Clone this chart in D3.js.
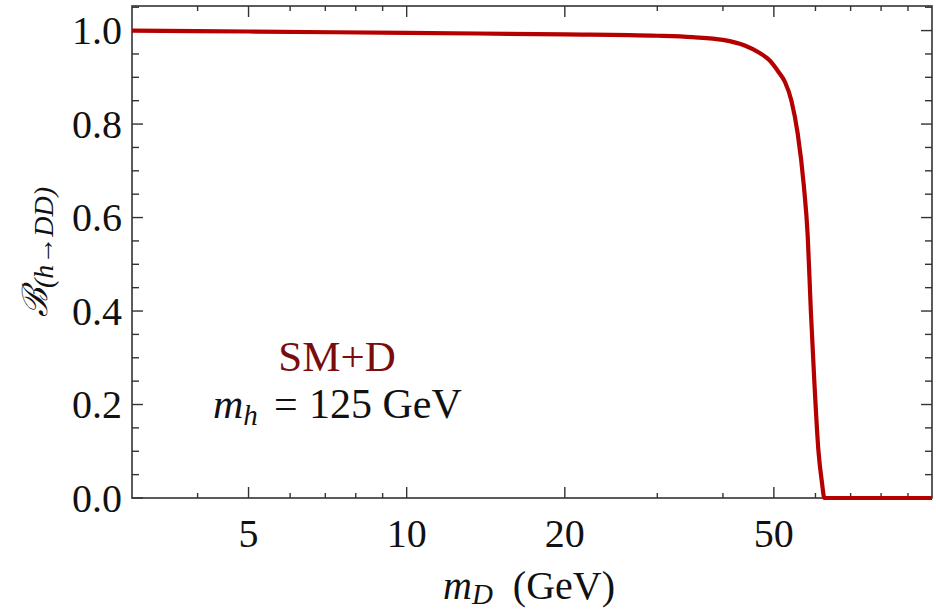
<!DOCTYPE html>
<html>
<head>
<meta charset="utf-8">
<script src="https://cdn.jsdelivr.net/npm/d3@7"></script>
<style>
  body { margin: 0; background: #fff; }
  svg text { font-family: "Liberation Serif", "Times New Roman", serif; }
</style>
</head>
<body>
<svg id="chart" width="936" height="610"></svg>
<script>
// masa de D (GeV) y fraccion de desintegracion
var masas = [3, 5, 10, 20, 30, 35, 40, 44, 47, 49, 51, 52.5, 54, 55.5, 57, 58, 58.8, 59.7, 60.8, 61.7, 62.4, 100];
var fraccion = [1.0, 0.998, 0.995, 0.992, 0.989, 0.986, 0.98, 0.968, 0.952, 0.937, 0.912, 0.89, 0.85, 0.78, 0.67, 0.56, 0.40, 0.25, 0.10, 0.035, 0, 0];

var xMajores = [5, 10, 20, 50];
var xMenores = [4, 6, 7, 8, 9, 30, 40, 60, 70, 80, 90];
var yMajores = [0, 0.2, 0.4, 0.6, 0.8, 1.0];

var svg = d3.select("#chart");
var bordeIzq = 132, bordeDer = 932, bordeSup = 6, bordeInf = 498;

var x = d3.scaleLog().domain([3, 100]).range([bordeIzq, bordeDer]);
var y = d3.scaleLinear().domain([0, 1.0526]).range([bordeInf, bordeSup]);
var yMenores = d3.range(0, 1.051, 0.05).filter(function (d) {
  return Math.abs(d * 5 - Math.round(d * 5)) > 1e-6;
});

var ejeColor = "#333";

// marco
svg.append("rect")
  .attr("x", bordeIzq).attr("y", bordeSup)
  .attr("width", bordeDer - bordeIzq).attr("height", bordeInf - bordeSup)
  .attr("fill", "none").attr("stroke", ejeColor).attr("stroke-width", 1.6);

// ticks inferiores y superiores
function ticksX(valores, largo) {
  svg.append("g").selectAll("line").data(valores).enter().append("line")
    .attr("x1", function (d) { return x(d); }).attr("x2", function (d) { return x(d); })
    .attr("y1", bordeInf).attr("y2", bordeInf - largo)
    .attr("stroke", ejeColor).attr("stroke-width", 1.4);
  svg.append("g").selectAll("line").data(valores).enter().append("line")
    .attr("x1", function (d) { return x(d); }).attr("x2", function (d) { return x(d); })
    .attr("y1", bordeSup).attr("y2", bordeSup + largo)
    .attr("stroke", ejeColor).attr("stroke-width", 1.4);
}
ticksX(xMajores, 11);
ticksX(xMenores, 5);

function ticksY(valores, largo) {
  svg.append("g").selectAll("line").data(valores).enter().append("line")
    .attr("x1", bordeIzq).attr("x2", bordeIzq + largo)
    .attr("y1", function (d) { return y(d); }).attr("y2", function (d) { return y(d); })
    .attr("stroke", ejeColor).attr("stroke-width", 1.4);
  svg.append("g").selectAll("line").data(valores).enter().append("line")
    .attr("x1", bordeDer).attr("x2", bordeDer - largo)
    .attr("y1", function (d) { return y(d); }).attr("y2", function (d) { return y(d); })
    .attr("stroke", ejeColor).attr("stroke-width", 1.4);
}
ticksY(yMajores, 11);
ticksY(yMenores, 7);

// etiquetas de los ejes
svg.append("g").selectAll("text").data(xMajores).enter().append("text")
  .attr("x", function (d) { return x(d); }).attr("y", 547)
  .attr("text-anchor", "middle").attr("font-size", 40).attr("fill", "#111")
  .text(function (d) { return d; });

svg.append("g").selectAll("text").data(yMajores).enter().append("text")
  .attr("x", 122).attr("y", function (d) { return y(d) + 13.5; })
  .attr("text-anchor", "end").attr("font-size", 40).attr("fill", "#111")
  .text(function (d) { return d.toFixed(1); });

// curva
var linea = d3.line()
  .x(function (d) { return x(d[0]); })
  .y(function (d) { return y(d[1]); })
  .curve(d3.curveMonotoneX);

svg.append("path")
  .datum(d3.zip(masas, fraccion))
  .attr("d", linea)
  .attr("fill", "none")
  .attr("stroke", "#b50000")
  .attr("stroke-width", 4.2)
  .attr("stroke-linejoin", "round");

// titulo del eje x
var tx = svg.append("text").attr("x", 443).attr("y", 599).attr("font-size", 40).attr("fill", "#111");
tx.append("tspan").attr("font-style", "italic").text("m");
tx.append("tspan").attr("font-style", "italic").attr("font-size", 29).attr("dy", 5).text("D");
tx.append("tspan").attr("dy", -5).text("\u00a0\u00a0(GeV)");

// titulo del eje y
var ty = svg.append("text")
  .attr("transform", "translate(47,252) rotate(-90)")
  .attr("text-anchor", "middle").attr("font-size", 38).attr("fill", "#111");
ty.append("tspan").attr("font-family", "DejaVu Serif").attr("font-style", "italic").attr("font-size", 35).text("\u212C");
ty.append("tspan").attr("font-style", "italic").attr("font-size", 28).attr("dy", 6).text("(h\u2192DD)");

// anotaciones
svg.append("text").attr("x", 337).attr("y", 371)
  .attr("text-anchor", "middle").attr("font-size", 43).attr("fill", "#7b0c0c")
  .text("SM+D");

var tm = svg.append("text").attr("x", 213).attr("y", 418).attr("font-size", 42).attr("fill", "#111");
tm.append("tspan").attr("font-style", "italic").text("m");
tm.append("tspan").attr("font-style", "italic").attr("font-size", 29).attr("dy", 7).text("h");
tm.append("tspan").attr("x", 274).attr("dy", -7).text("=");
tm.append("tspan").attr("x", 309).text("125 GeV");
</script>
</body>
</html>
